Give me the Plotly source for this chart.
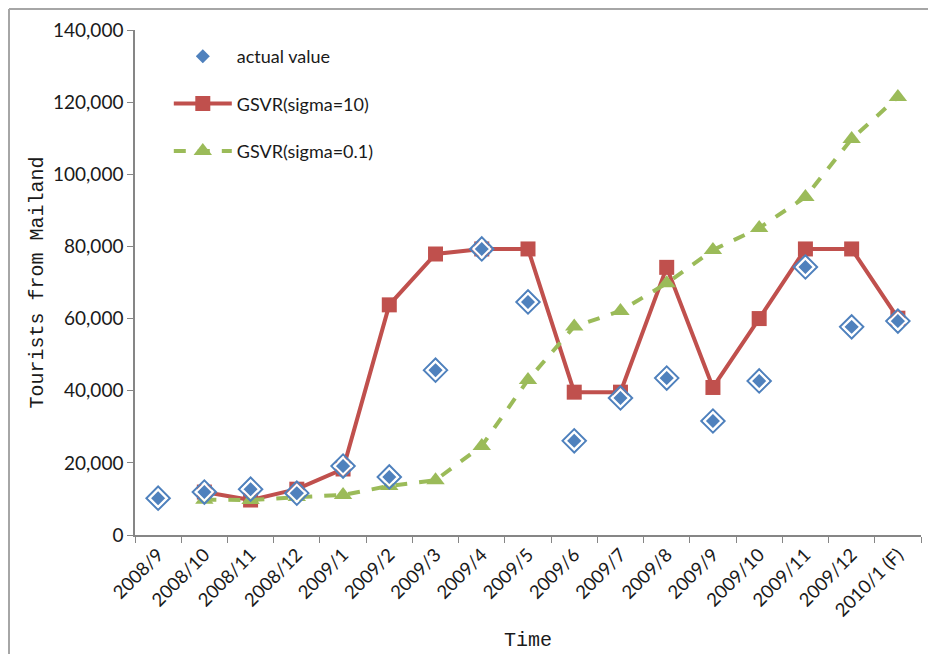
import plotly.graph_objects as go

months = ["2008/9", "2008/10", "2008/11", "2008/12", "2009/1", "2009/2", "2009/3",
          "2009/4", "2009/5", "2009/6", "2009/7", "2009/8", "2009/9", "2009/10",
          "2009/11", "2009/12", "2010/1 (F)"]
actual = [10200, 11900, 12700, 11600, 19100, 16100, 45700, 79300, 64600, 26100,
          38000, 43500, 31600, 42700, 74300, 57700, 59300]
gsvr_sigma10 = [None, 11900, 9700, 12700, 18300, 63800, 77900, 79300, 79300, 39600,
                39600, 74200, 40900, 60000, 79300, 79300, 60100]
gsvr_sigma01 = [None, 9800, 9700, 10500, 11100, 13600, 15200, 24700, 43000, 57800,
                62100, 69800, 79000, 85100, 93700, 109800, 121400]
y_ticks = [0, 20000, 40000, 60000, 80000, 100000, 120000, 140000]

BLUE = "#4F81BD"
RED = "#C0504D"
GREEN = "#9BBB59"
TEXT = "#1a1a1a"

ML, MR, MT, MB = 127, 23, 22, 127
PW = 936 - ML - MR
PH = 654 - MT - MB

fig = go.Figure()
fig.add_trace(go.Scatter(
    x=months, y=gsvr_sigma10, mode="lines+markers", name="GSVR(sigma=10)",
    line=dict(color=RED, width=4),
    marker=dict(symbol="square", size=15, color=RED),
    legendgroup="b", legendrank=2))
fig.add_trace(go.Scatter(
    x=months, y=gsvr_sigma01, mode="lines+markers", name="GSVR(sigma=0.1)",
    line=dict(color=GREEN, width=4, dash="dash"),
    marker=dict(symbol="triangle-up", size=16, color=GREEN),
    legendgroup="c", legendrank=3))
fig.add_trace(go.Scatter(
    x=months, y=actual, mode="markers", showlegend=False,
    marker=dict(symbol="diamond-open", size=18, color=BLUE, line=dict(color=BLUE, width=2)),
    hoverinfo="skip"))
fig.add_trace(go.Scatter(
    x=months, y=actual, mode="markers", name="actual value",
    marker=dict(symbol="diamond", size=13, color=BLUE, line=dict(color="white", width=2)),
    legendgroup="a", legendrank=1))

fig.update_layout(
    width=936, height=654,
    margin=dict(l=ML, r=MR, t=MT, b=MB),
    plot_bgcolor="white", paper_bgcolor="white",
    showlegend=True,
    legend=dict(x=0.043, y=1 - 8 / PH, xanchor="left", yanchor="top",
                font=dict(family="Lato", size=18, color=TEXT),
                itemwidth=58, tracegroupgap=21, bgcolor="rgba(0,0,0,0)",
                traceorder="grouped"),
    xaxis=dict(
        type="category", range=[-0.5, 16.5], tickson="boundaries",
        ticks="outside", ticklen=6, tickcolor="#868686", automargin=False,
        showline=True, linecolor="#868686", linewidth=1.5,
        showgrid=False, tickangle=-45, tickfont=dict(family="Lato", size=18.5, color=TEXT),
        title=dict(text="Time", font=dict(family="Liberation Mono", size=20, color=TEXT),
                   standoff=12)),
    yaxis=dict(
        range=[0, 140000], tickvals=y_ticks, tickformat=",",
        ticks="outside", ticklen=6, tickcolor="#868686", automargin=False,
        showline=True, linecolor="#868686", linewidth=1.5,
        showgrid=False, zeroline=False, tickfont=dict(family="Lato", size=19, color=TEXT),
        title=dict(text="Tourists from Mailand",
                   font=dict(family="Liberation Mono", size=20, color=TEXT),
                   standoff=4)),
)

# outer frame (top and left edges visible)
fx0 = (1 - ML) / PW
fy0 = 1 + (MT - 1) / PH
fig.add_shape(type="line", xref="paper", yref="paper",
              x0=fx0, x1=(940 - ML) / PW, y0=fy0, y1=fy0,
              line=dict(color="#A6A6A6", width=2))
fig.add_shape(type="line", xref="paper", yref="paper",
              x0=fx0, x1=fx0, y0=fy0, y1=-(MB + 10) / PH,
              line=dict(color="#A6A6A6", width=2))

fig.write_html("out.html")
